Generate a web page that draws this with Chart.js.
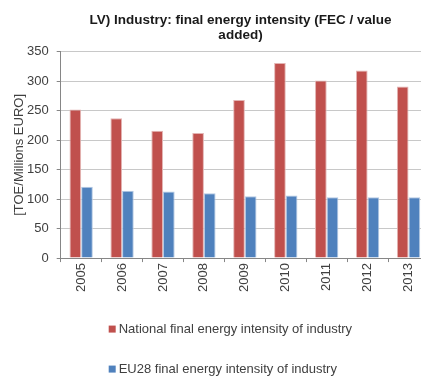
<!DOCTYPE html>
<html>
<head>
<meta charset="utf-8">
<script src="https://cdn.jsdelivr.net/npm/chart.js@4.4.1/dist/chart.umd.min.js"></script>
<style>
  html, body { margin: 0; padding: 0; background: #ffffff; }
  #frame { width: 421px; height: 380px; overflow: hidden; position: relative; }
  #wrap { width: 481px; height: 380px; position: absolute; left: 0; top: 0; }
</style>
</head>
<body>
<div id="frame"><div id="wrap"><canvas id="chart"></canvas></div></div>
<script>
// Industry final energy intensity, Latvia vs EU28 (TOE per million EURO of value added)
const years = ['2005', '2006', '2007', '2008', '2009', '2010', '2011', '2012', '2013'];
const nationalIntensity = [252, 237, 216, 212, 268, 331, 301, 318, 291];
const eu28Intensity = [121, 114, 113, 110, 105, 106, 103, 103, 103];
const seriesNames = ['National final energy intensity of industry', 'EU28 final energy intensity of industry'];
const titleLines = ['LV) Industry: final energy intensity (FEC / value', 'added)'];
const yAxisTitle = '[TOE/Millions EURO]';

const FONT = "'Liberation Sans', Arial, sans-serif";
const TEXT = '#404040';

// Centre the title over the whole canvas rather than the padded box
const centreTitle = {
  id: 'centreTitle',
  afterLayout(chart) {
    const t = chart.titleBlock;
    if (!t) return;
    const shift = chart.width / 2 - (t.left + t.right) / 2;
    t.left += shift;
    t.right += shift;
  }
};

// Legend stacked below the axis, one entry per line
const stackedLegend = {
  id: 'stackedLegend',
  afterDraw(chart) {
    const ctx = chart.ctx;
    const area = chart.chartArea;
    const x0 = area.left + 48;
    const rows = [area.bottom + 71, area.bottom + 111];
    ctx.save();
    ctx.font = '13px ' + FONT;
    ctx.textBaseline = 'middle';
    ctx.textAlign = 'left';
    chart.data.datasets.forEach((ds, i) => {
      const y = rows[i];
      ctx.fillStyle = ds.backgroundColor;
      ctx.fillRect(x0, y - 3.5, 7, 7);
      ctx.fillStyle = TEXT;
      ctx.fillText(ds.label, x0 + 10, y);
    });
    ctx.restore();
  }
};

new Chart(document.getElementById('chart'), {
  type: 'bar',
  data: {
    labels: years,
    datasets: [
      {
        label: seriesNames[0],
        data: nationalIntensity,
        backgroundColor: '#C0504D',
        borderColor: '#E3B4B3',
        borderWidth: { top: 1, left: 1, right: 1, bottom: 0 },
        borderSkipped: 'bottom'
      },
      {
        label: seriesNames[1],
        data: eu28Intensity,
        backgroundColor: '#4F81BD',
        borderColor: '#B4C9E3',
        borderWidth: { top: 1, left: 1, right: 1, bottom: 0 },
        borderSkipped: 'bottom'
      }
    ]
  },
  options: {
    responsive: true,
    maintainAspectRatio: false,
    animation: false,
    layout: { padding: { left: 7, right: 52, top: 0, bottom: 87 } },
    datasets: {
      bar: { categoryPercentage: 0.57, barPercentage: 1.0 }
    },
    plugins: {
      legend: { display: false },
      tooltip: { enabled: false },
      title: {
        display: true,
        text: titleLines,
        color: '#1a1a1a',
        font: { family: FONT, size: 13.5, weight: 'bold', lineHeight: 1.1 },
        padding: { top: 13, bottom: 9 }
      }
    },
    scales: {
      x: {
        grid: {
          offset: true,
          drawOnChartArea: false,
          tickLength: 4,
          tickColor: '#868686'
        },
        border: { color: '#868686', width: 1 },
        ticks: {
          color: TEXT,
          font: { family: FONT, size: 13 },
          minRotation: 90,
          maxRotation: 90,
          padding: 1
        }
      },
      y: {
        min: 0,
        max: 350,
        ticks: {
          stepSize: 50,
          color: TEXT,
          font: { family: FONT, size: 13 },
          padding: 8
        },
        grid: {
          color: '#C8C8C8',
          borderDash: [3, 2],
          tickLength: 4,
          tickColor: '#868686',
          tickBorderDash: []
        },
        border: { color: '#868686', width: 1 },
        title: {
          display: true,
          text: yAxisTitle,
          color: TEXT,
          font: { family: FONT, size: 13, lineHeight: 1.0 },
          padding: { top: 6, bottom: -7 }
        }
      }
    }
  },
  plugins: [centreTitle, stackedLegend]
});
</script>
</body>
</html>
